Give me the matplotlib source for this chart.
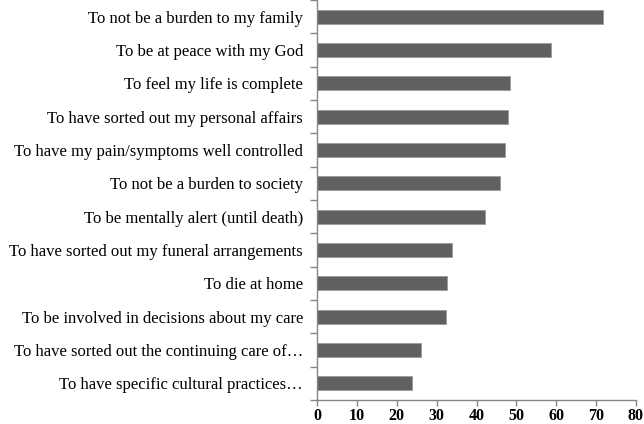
import matplotlib
matplotlib.use("Agg")
import matplotlib.pyplot as plt
import numpy as np

labels = [
    "To not be a burden to my family",
    "To be at peace with my God",
    "To feel my life is complete",
    "To have sorted out my personal affairs",
    "To have my pain/symptoms well controlled",
    "To not be a burden to society",
    "To be mentally alert (until death)",
    "To have sorted out my funeral arrangements",
    "To die at home",
    "To be involved in decisions about my care",
    "To have sorted out the continuing care of\u2026",
    "To have specific cultural practices\u2026",
]
values = [71.7, 58.6, 48.3, 48.0, 47.2, 46.0, 42.1, 33.9, 32.6, 32.3, 26.2, 23.9]
xticks = [0, 10, 20, 30, 40, 50, 60, 70, 80]

AXIS = "#868686"
BAR = "#606060"

plt.rcParams["font.family"] = ["Liberation Serif", "DejaVu Serif"]

fig = plt.figure(figsize=(6.44, 4.24), dpi=100)
ax = fig.add_axes([317 / 644, 24 / 424, 319 / 644, 400 / 424])

n = len(labels)
y = np.arange(n)
ax.barh(y, values, height=0.42, color=BAR, edgecolor="#9a9a9a", linewidth=0.6)

ax.set_xlim(0, 80)
ax.set_ylim(n - 0.5, -0.5)
ax.set_xticks(xticks)
ax.set_xticklabels([str(t) for t in xticks], fontsize=11.5, fontweight="bold")
ax.set_yticks(y)
ax.set_yticklabels(labels, fontsize=12)
ax.tick_params(axis="y", length=0, pad=10)
ax.set_yticks(np.arange(-0.5, n, 1.0), minor=True)
ax.tick_params(axis="y", which="minor", length=5, color=AXIS, width=1)
ax.tick_params(axis="x", length=4, color=AXIS, width=1, pad=1.5)

for side in ("top", "right"):
    ax.spines[side].set_visible(False)
for side in ("left", "bottom"):
    ax.spines[side].set_color(AXIS)
    ax.spines[side].set_linewidth(1)

fig.savefig("out.png", dpi=100)
